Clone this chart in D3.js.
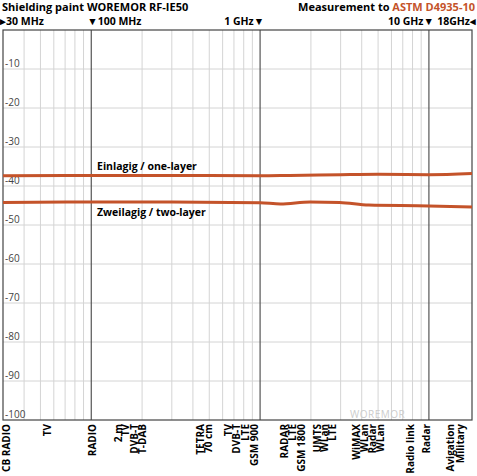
<!DOCTYPE html>
<html><head><meta charset="utf-8">
<script src="https://cdn.jsdelivr.net/npm/d3@7"></script>
<style>body{margin:0;background:#fff}text{font-family:"Open Sans",sans-serif}</style>
</head><body><svg id="c" width="477" height="476"></svg>
<script>
const yTicks=[-10,-20,-30,-40,-50,-60,-70,-80,-90,-100];
const oneFreq=[30,100,300,1000,1500,3000,5000,10000,18000];
const oneVal=[-37.4,-37.3,-37.3,-37.4,-37.3,-37.1,-37.0,-37.1,-36.8];
const twoFreq=[30,100,300,1000,1320,1980,2960,4400,10000,18000];
const twoVal=[-44.2,-44.1,-44.1,-44.3,-44.6,-44.1,-44.2,-44.9,-45.1,-45.4];
const bands=["CB RADIO","TV","RADIO","2 m","TV","DVB-T","T-DAB","TETRA","70 cm","TV","DVB-T","LTE","GSM 900","RADAR","LTE","GSM 1800","UMTS","WLan","LTE","WiMAX","WLan","Radar","WLan","Radio link","Radar","Avigation","Military"];
const bandFreq=[31,55,102,145,160,180,200,445,498,650,721,815,930,1400,1560,1760,2180,2420,2700,3750,4150,4650,5200,7800,9700,13400,15300];
const svg=d3.select("#c");
const x=d3.scaleLog().domain([30,18000]).range([3,472]);
const y=d3.scaleLinear().domain([0,-100]).range([30,420]);
const minor=[];
[10,100,1000].forEach(d=>{for(let k=1;k<10;k++){const f=d*k;if(f>30&&f<18000&&k!==1)minor.push(f);}});
svg.selectAll(".vm").data(minor).join("line").attr("x1",d=>x(d)).attr("x2",d=>x(d)).attr("y1",30).attr("y2",420).attr("stroke","#d4d4d4").attr("stroke-width",1);
svg.selectAll(".hg").data(yTicks.slice(0,-1)).join("line").attr("x1",3).attr("x2",472).attr("y1",d=>y(d)).attr("y2",d=>y(d)).attr("stroke","#d4d4d4");
svg.selectAll(".vM").data([100,1000,10000]).join("line").attr("x1",d=>x(d)).attr("x2",d=>x(d)).attr("y1",30).attr("y2",420).attr("stroke","#555").attr("stroke-width",1.2);
svg.append("rect").attr("x",3).attr("y",30).attr("width",469).attr("height",390).attr("fill","none").attr("stroke","#444").attr("stroke-width",1.2);
svg.selectAll(".yl").data(yTicks).join("text").attr("x",5).attr("y",d=>y(d)-2).attr("font-size",10).attr("fill","#444").text(d=>d);
svg.append("text").attr("x",350).attr("y",418).attr("font-size",10).attr("fill","#ccc").attr("letter-spacing",0.5).text("WOREMOR");
const line=d3.line().x(d=>x(d[0])).y(d=>y(d[1])).curve(d3.curveMonotoneX);
svg.append("path").attr("d",line(oneFreq.map((f,i)=>[f,oneVal[i]]))).attr("fill","none").attr("stroke","#c4532a").attr("stroke-width",3);
svg.append("path").attr("d",line(twoFreq.map((f,i)=>[f,twoVal[i]]))).attr("fill","none").attr("stroke","#c4532a").attr("stroke-width",3);
svg.append("text").attr("x",97).attr("y",170).attr("font-size",10.5).attr("font-weight","bold").text("Einlagig / one-layer");
svg.append("text").attr("x",97).attr("y",216).attr("font-size",10.5).attr("font-weight","bold").text("Zweilagig / two-layer");
svg.append("text").attr("x",2).attr("y",11).attr("font-size",11).attr("font-weight","bold").text("Shielding paint WOREMOR RF-IE50");
const m=svg.append("text").attr("x",475).attr("y",11).attr("font-size",11).attr("font-weight","bold").attr("text-anchor","end");
m.append("tspan").text("Measurement to ");m.append("tspan").attr("fill","#c4532a").text("ASTM D4935-10");
const hdr=[[x(30)-3,"▸30 MHz","start"],[x(100)-4,"▼100 MHz","start"],[x(1000)+4,"1 GHz▼","end"],[x(10000)+5,"10 GHz▼","end"],[476,"18GHz◂","end"]];
svg.selectAll(".hd").data(hdr).join("text").attr("x",d=>d[0]).attr("y",25).attr("font-size",10.5).attr("font-weight","bold").attr("text-anchor",d=>d[2]).text(d=>d[1]);
svg.selectAll(".bl").data(bands).join("text").attr("transform",(d,i)=>`translate(${Math.max(x(bandFreq[i]),6)+3.5},424) rotate(-90)`).attr("font-size",10).attr("font-weight","bold").attr("text-anchor","end").text(d=>d);
</script></body></html>
